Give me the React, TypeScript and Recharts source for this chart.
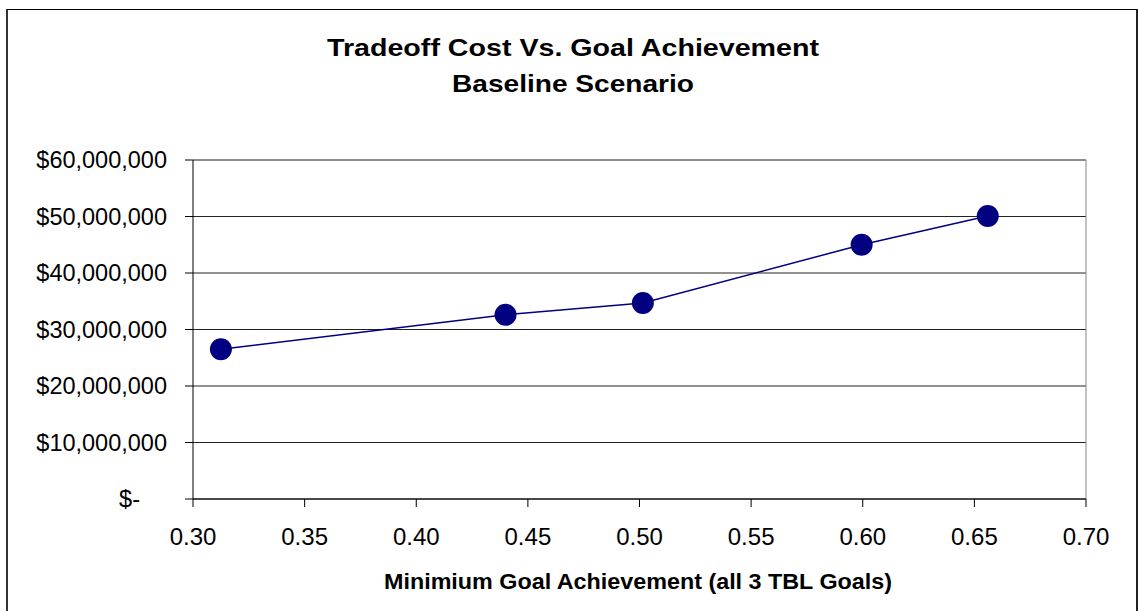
import { LineChart, Line, XAxis, YAxis, CartesianGrid, ReferenceLine } from 'recharts';

const goalAchievement = [0.3125, 0.44, 0.5015, 0.5995, 0.656];
const tradeoffCost = [26500000, 32600000, 34700000, 45000000, 50100000];
const xTicks = [0.3, 0.35, 0.4, 0.45, 0.5, 0.55, 0.6, 0.65, 0.7];
const yTicks = [0, 10000000, 20000000, 30000000, 40000000, 50000000, 60000000];
const titleLines = ['Tradeoff Cost Vs. Goal Achievement', 'Baseline Scenario'];
const xAxisTitle = 'Minimium Goal Achievement (all 3 TBL Goals)';

const data = goalAchievement.map((x, i) => ({ x, cost: tradeoffCost[i] }));

const FONT = '"Liberation Sans", Arial, sans-serif';

function formatMoney(v: number) {
  return v === 0 ? '$-' : '$' + v.toLocaleString('en-US');
}

// accounting style: the "$-" for zero sits further left than the others
function YTick(props: any) {
  const { x, y, payload } = props;
  const v = payload.value as number;
  return (
    <text
      x={v === 0 ? x - 27 : x}
      y={y}
      dy={8}
      textAnchor="end"
      fontFamily={FONT}
      fontSize={23.5}
      fill="#000"
    >
      {formatMoney(v)}
    </text>
  );
}

export default function App() {
  return (
    <div style={{ position: 'absolute', left: 0, top: 0, width: 1138, height: 611, background: '#fff', overflow: 'hidden' }}>
      <div
        style={{
          position: 'absolute',
          left: 6,
          top: 9,
          width: 1132,
          height: 640,
          boxSizing: 'border-box',
          borderTop: '1px solid #000',
          borderLeft: '2px solid #333',
          borderRight: '2px solid #222',
        }}
      />
      <div style={{ position: 'absolute', left: 0, top: 0 }}>
        <LineChart width={1138} height={611} data={data} margin={{ top: 160, right: 52, left: 0, bottom: 0 }}>
          <CartesianGrid vertical={false} stroke="#222" />
          <XAxis
            type="number"
            dataKey="x"
            domain={[0.3, 0.7]}
            ticks={xTicks}
            tickFormatter={(v: number) => v.toFixed(2)}
            height={112}
            tickSize={8}
            tickMargin={21}
            axisLine={{ stroke: '#000' }}
            tickLine={{ stroke: '#000' }}
            tick={{ fill: '#000', fontSize: 24, fontFamily: FONT }}
            interval={0}
          />
          <YAxis
            type="number"
            domain={[0, 60000000]}
            ticks={yTicks}
            width={193}
            tickSize={8}
            tickMargin={18}
            axisLine={{ stroke: '#000' }}
            tickLine={{ stroke: '#000' }}
            tick={<YTick />}
            interval={0}
          />
          <ReferenceLine y={60000000} stroke="#888" />
          <ReferenceLine x={0.7} stroke="#888" />
          <Line
            type="linear"
            dataKey="cost"
            stroke="#000080"
            strokeWidth={1.5}
            dot={{ r: 11, fill: '#000080', stroke: '#000080', strokeWidth: 0 }}
            activeDot={false}
            isAnimationActive={false}
          />
        </LineChart>
      </div>
      <svg width={1138} height={611} style={{ position: 'absolute', left: 0, top: 0, pointerEvents: 'none' }}>
        <text x={573} y={56} textAnchor="middle" fontFamily={FONT} fontWeight="bold" fontSize={24} textLength={492} lengthAdjust="spacingAndGlyphs" fill="#000">
          {titleLines[0]}
        </text>
        <text x={573} y={92} textAnchor="middle" fontFamily={FONT} fontWeight="bold" fontSize={24} textLength={242} lengthAdjust="spacingAndGlyphs" fill="#000">
          {titleLines[1]}
        </text>
        <text x={638} y={589} textAnchor="middle" fontFamily={FONT} fontWeight="bold" fontSize={22} textLength={508} lengthAdjust="spacingAndGlyphs" fill="#000">
          {xAxisTitle}
        </text>
      </svg>
    </div>
  );
}
